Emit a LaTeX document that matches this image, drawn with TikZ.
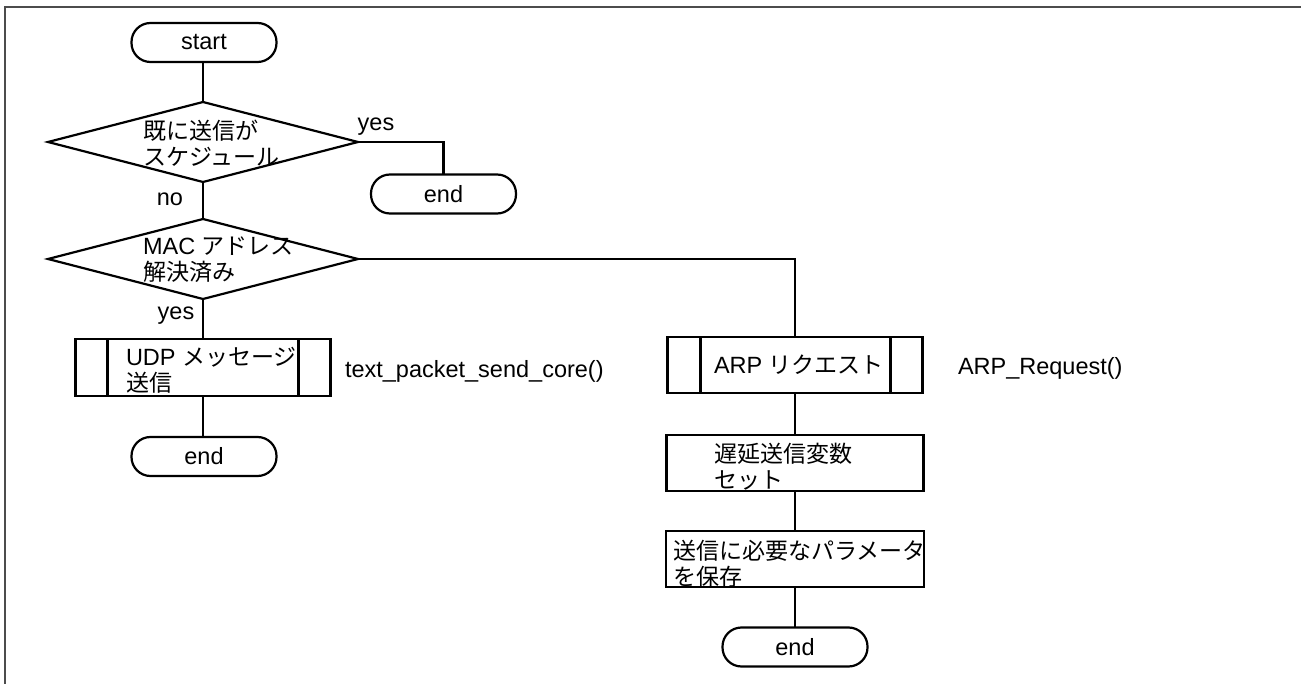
\documentclass[tikz,border=0pt]{standalone}
\usepackage{fontspec}
\setmainfont{Liberation Sans}
\newfontfamily\cjk[Scale=0.98]{Noto Sans CJK JP}
\usetikzlibrary{shapes.geometric}
\begin{document}
\begin{tikzpicture}[x=1pt,y=-1pt,line width=2.2pt,
  every node/.style={font=\fontsize{23.5}{26}\selectfont},
  term/.style={draw,rectangle,rounded corners=19pt,minimum width=145pt,minimum height=39pt,inner sep=0pt,outer sep=0pt},
  dec/.style={draw,diamond,minimum width=310pt,minimum height=80pt,inner sep=0pt,outer sep=0pt},
  proc/.style={draw,rectangle,minimum width=256pt,minimum height=56pt,inner sep=0pt,outer sep=0pt},
  txt/.style={inner sep=0pt,outer sep=0pt,align=left,anchor=west},
  lbl/.style={inner sep=0pt,outer sep=0pt},
  frame/.style={line width=2pt,black!70}]
\useasboundingbox (0,0) rectangle (1301,684);
\draw[frame] (5,684) -- (5,7) -- (1301,7);

% left column
\node[term] (start) at (204,42.5) {start};
\node[dec] (d1) at (203,142) {};
\node[txt] (d1t) at (143,143.5) {{\cjk 既に送信が}\\{\cjk スケジュール}};
\node[term] (end1) at (443.5,194) {end};
\node[dec] (d2) at (203,259) {};
\node[txt] (d2t) at (143,260) {MAC {\cjk アドレス}\\{\cjk 解決済み}};
\node[proc,minimum width=255pt,minimum height=57pt] (udp) at (203,367.5) {};
\node[txt] (udpt) at (126,370) {UDP {\cjk メッセージ}\\{\cjk 送信}};
\node[txt] (udpf) at (345,371) {text\_packet\_send\_core()};
\node[term] (end2) at (204,456.5) {end};

% right column
\node[proc,minimum width=255pt] (arp) at (795,365) {};
\node[txt] (arpt) at (714,365) {ARP {\cjk リクエスト}};
\node[txt] (arpf) at (958,368) {ARP\_Request()};
\node[proc,minimum width=257pt] (delay) at (795,463) {};
\node[txt] (delayt) at (714,467) {{\cjk 遅延送信変数}\\{\cjk セット}};
\node[proc,minimum width=258pt] (params) at (795,559) {};
\node[txt] (paramst) at (673,564) {{\cjk 送信に必要なパラメータ}\\{\cjk を保存}};
\node[term] (end3) at (795,647) {end};

% subroutine bars
\draw ([xshift=32pt]udp.north west) -- ([xshift=32pt]udp.south west);
\draw ([xshift=-32pt]udp.north east) -- ([xshift=-32pt]udp.south east);
\draw ([xshift=33pt]arp.north west) -- ([xshift=33pt]arp.south west);
\draw ([xshift=-32pt]arp.north east) -- ([xshift=-32pt]arp.south east);

% connectors
\draw (start.south -| d1.north) -- (d1.north);
\draw (d1.east) -| (end1.north);
\draw (d1.south) -- (d2.north);
\draw (d2.east) -| (arp.north);
\draw (d2.south) -- (udp.north -| d2.south);
\draw (udp.south -| d2.south) -- (end2.north -| d2.south);
\draw (arp.south) -- (delay.north);
\draw (delay.south) -- (params.north);
\draw (params.south) -- (end3.north);

% branch labels
\node[lbl] (yes1) at (376,127) {yes};
\node[lbl] (no1) at (170,199) {no};
\node[lbl] (yes2) at (176,316) {yes};
\end{tikzpicture}
\end{document}
